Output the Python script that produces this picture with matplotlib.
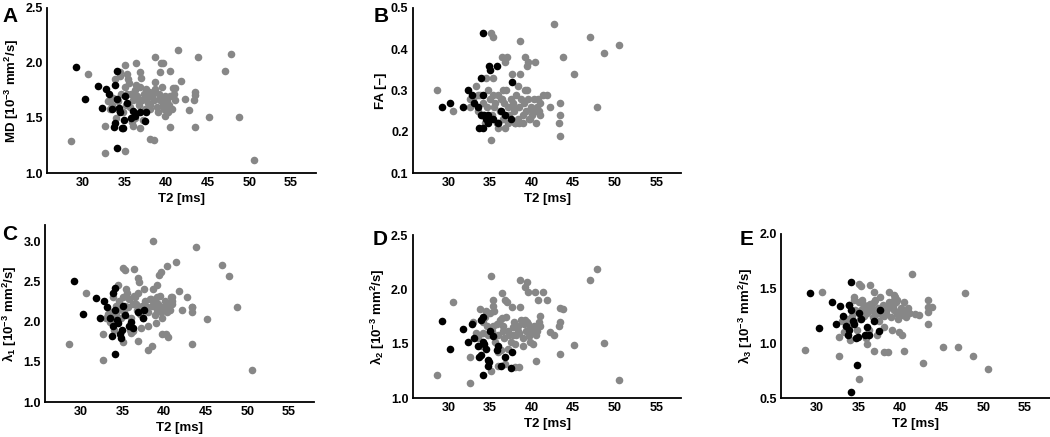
import matplotlib
matplotlib.use("Agg")
import matplotlib.pyplot as plt

plt.rcParams['font.family'] = ['Liberation Sans', 'DejaVu Sans']
plt.rcParams['font.weight'] = 'bold'
plt.rcParams['mathtext.fontset'] = 'custom'
plt.rcParams['mathtext.rm'] = 'Liberation Sans:bold'
plt.rcParams['mathtext.bf'] = 'Liberation Sans:bold'
plt.rcParams['mathtext.it'] = 'Liberation Sans:bold'

# ---- black group: T2, MD, FA, lambda1, lambda2, lambda3
t2_black = [29.2, 30.2, 31.8, 34.1, 34.1, 34.8, 37.5, 37.6, 32.3, 32.8, 33.1, 33.5, 33.7,
            33.9, 33.9, 34.3, 34.5, 34.7, 34.9, 35.0, 35.3, 35.8, 36.0, 36.8, 34.1, 36.3]
md_black = [1.96, 1.67, 1.79, 1.23, 1.93, 1.41, 1.47, 1.55, 1.59, 1.76, 1.72, 1.58, 1.42,
            1.45, 1.80, 1.59, 1.55, 1.41, 1.48, 1.70, 1.64, 1.50, 1.56, 1.55, 1.67, 1.52]
fa_black = [0.26, 0.27, 0.26, 0.21, 0.44, 0.22, 0.23, 0.32, 0.30, 0.29, 0.27, 0.26, 0.21,
            0.24, 0.33, 0.24, 0.23, 0.24, 0.36, 0.35, 0.23, 0.36, 0.22, 0.24, 0.29, 0.25]
l1_black = [2.50, 2.10, 2.29, 1.60, 2.42, 1.80, 2.05, 2.15, 2.05, 2.25, 2.18, 2.05, 1.82,
            1.95, 2.35, 2.02, 1.98, 1.85, 1.90, 2.20, 2.08, 1.95, 2.00, 2.12, 2.15, 1.92]
l2_black = [1.71, 1.45, 1.64, 1.21, 1.75, 1.30, 1.28, 1.42, 1.52, 1.68, 1.55, 1.48, 1.38,
            1.40, 1.72, 1.50, 1.45, 1.35, 1.33, 1.62, 1.57, 1.44, 1.48, 1.38, 1.52, 1.30]
l3_black = [1.46, 1.14, 1.38, 0.56, 1.56, 0.80, 1.11, 1.30, 1.18, 1.34, 1.25, 1.16, 1.08,
            1.12, 1.35, 1.20, 1.18, 1.05, 1.06, 1.28, 1.22, 1.08, 1.15, 1.20, 1.30, 1.08]

# ---- gray group
t2_gray = [28.6, 30.6, 32.6, 32.6, 35.1, 35.1, 35.3, 36.4, 36.8, 37.0, 37.6, 36.8, 36.0,
           38.0, 38.5, 38.6, 39.2, 39.4, 39.6, 38.6, 40.4, 40.5, 41.4, 40.8, 41.0, 41.8,
           42.2, 42.7, 43.4, 43.4, 43.3, 43.4, 43.8, 45.1, 47.0, 47.8, 48.7, 50.5,
           33.0, 33.3, 33.5, 33.8, 34.0, 34.2, 34.4, 34.6, 34.8, 35.0, 35.2, 35.4, 35.6,
           35.8, 36.0, 36.2, 36.3, 36.5, 36.7, 36.9, 37.1, 37.3, 37.5, 37.7, 37.9, 38.1,
           38.3, 38.5, 38.7, 38.9, 39.1, 39.3, 39.5, 39.7, 39.9, 40.1, 40.3, 40.5, 40.7,
           41.0, 34.5, 35.5, 36.4, 38.0, 39.0, 39.8, 40.2, 37.2, 35.9, 34.2, 33.6, 38.4,
           39.2, 36.6, 37.8, 35.3, 40.9, 39.6]
md_gray = [1.29, 1.90, 1.18, 1.43, 1.20, 1.98, 1.90, 2.00, 1.92, 1.86, 1.76, 1.41, 1.43,
           1.31, 1.30, 2.05, 1.92, 2.00, 2.00, 1.83, 1.93, 1.42, 2.12, 1.77, 1.77, 1.84,
           1.67, 1.57, 1.74, 1.71, 1.66, 1.42, 2.05, 1.51, 1.93, 2.08, 1.51, 1.12,
           1.65, 1.58, 1.62, 1.85, 1.50, 1.65, 1.88, 1.72, 1.55, 1.78, 1.62, 1.85, 1.60,
           1.72, 1.66, 1.75, 1.50, 1.70, 1.62, 1.78, 1.66, 1.72, 1.58, 1.68, 1.74, 1.62,
           1.70, 1.66, 1.76, 1.60, 1.72, 1.66, 1.78, 1.58, 1.70, 1.65, 1.62, 1.70, 1.58,
           1.66, 1.92, 1.82, 1.80, 1.58, 1.55, 1.52, 1.55, 1.48, 1.46, 1.58, 1.68, 1.74,
           1.68, 1.66, 1.64, 1.72, 1.72, 1.62]
fa_gray = [0.30, 0.25, 0.26, 0.28, 0.18, 0.44, 0.43, 0.38, 0.37, 0.38, 0.34, 0.21, 0.22,
           0.22, 0.22, 0.42, 0.38, 0.36, 0.37, 0.34, 0.37, 0.22, 0.29, 0.28, 0.27, 0.29,
           0.26, 0.46, 0.27, 0.24, 0.22, 0.19, 0.38, 0.34, 0.43, 0.26, 0.39, 0.41,
           0.28, 0.31, 0.25, 0.29, 0.24, 0.27, 0.22, 0.26, 0.30, 0.28, 0.24, 0.33, 0.27,
           0.22, 0.29, 0.25, 0.28, 0.23, 0.27, 0.30, 0.26, 0.24, 0.28, 0.27, 0.25, 0.29,
           0.23, 0.26, 0.28, 0.24, 0.27, 0.25, 0.30, 0.23, 0.26, 0.24, 0.28, 0.25, 0.26,
           0.24, 0.33, 0.26, 0.28, 0.22, 0.22, 0.23, 0.25, 0.22, 0.21, 0.24, 0.29, 0.31,
           0.30, 0.30, 0.26, 0.29, 0.25, 0.28]
l1_gray = [1.72, 2.36, 1.52, 1.85, 1.75, 2.67, 2.64, 2.65, 2.54, 2.49, 2.40, 1.76, 1.86,
           1.65, 1.70, 3.00, 2.46, 2.58, 2.62, 2.40, 2.69, 1.81, 2.74, 2.31, 2.25, 2.38,
           2.15, 2.30, 2.18, 2.18, 2.12, 1.72, 2.93, 2.03, 2.70, 2.57, 2.18, 1.40,
           2.05, 2.10, 2.00, 2.30, 1.90, 2.20, 2.15, 2.25, 2.05, 2.30, 2.12, 2.40, 2.18,
           2.28, 2.05, 2.22, 1.88, 2.30, 2.15, 2.35, 2.10, 2.20, 2.05, 2.25, 2.18, 2.12,
           2.28, 2.20, 2.25, 2.08, 2.30, 2.22, 2.32, 2.05, 2.18, 2.25, 2.12, 2.20, 2.15,
           2.22, 2.45, 2.36, 2.32, 1.95, 1.98, 1.85, 1.85, 1.92, 1.90, 2.08, 2.12, 2.28,
           2.15, 2.22, 2.18, 2.20, 2.30, 2.12]
l2_gray = [1.21, 1.88, 1.14, 1.38, 1.25, 2.12, 1.90, 1.97, 1.90, 1.88, 1.84, 1.31, 1.30,
           1.29, 1.29, 2.09, 2.02, 2.07, 1.98, 1.84, 1.98, 1.34, 1.98, 1.90, 1.76, 1.90,
           1.61, 1.58, 1.83, 1.70, 1.66, 1.41, 1.82, 1.49, 2.09, 2.19, 1.51, 1.17,
           1.70, 1.60, 1.55, 1.82, 1.48, 1.70, 1.75, 1.66, 1.58, 1.78, 1.62, 1.85, 1.52,
           1.68, 1.58, 1.72, 1.44, 1.62, 1.55, 1.75, 1.62, 1.58, 1.52, 1.65, 1.70, 1.58,
           1.66, 1.60, 1.72, 1.55, 1.68, 1.62, 1.70, 1.57, 1.64, 1.60, 1.66, 1.58, 1.62,
           1.66, 1.80, 1.80, 1.74, 1.50, 1.48, 1.52, 1.50, 1.45, 1.42, 1.60, 1.56, 1.62,
           1.72, 1.66, 1.58, 1.66, 1.70, 1.68]
l3_gray = [0.94, 1.47, 0.88, 1.06, 0.67, 1.54, 1.52, 1.53, 1.47, 1.40, 1.42, 0.93, 0.99,
           0.92, 0.92, 1.47, 1.44, 1.42, 1.40, 1.38, 1.38, 0.93, 1.63, 1.30, 1.28, 1.27,
           1.26, 0.82, 1.40, 1.33, 1.29, 1.18, 1.33, 0.97, 0.97, 1.46, 0.88, 0.77,
           1.20, 1.10, 1.15, 1.35, 1.03, 1.25, 1.40, 1.30, 1.12, 1.38, 1.22, 1.40, 1.25,
           1.33, 1.28, 1.35, 1.12, 1.30, 1.24, 1.38, 1.27, 1.32, 1.20, 1.30, 1.35, 1.25,
           1.28, 1.32, 1.36, 1.24, 1.34, 1.30, 1.38, 1.22, 1.28, 1.32, 1.26, 1.30, 1.24,
           1.28, 1.42, 1.36, 1.36, 1.15, 1.12, 1.10, 1.08, 1.08, 1.05, 1.18, 1.22, 1.34,
           1.40, 1.32, 1.26, 1.30, 1.32, 1.27]

x_ticks = [30, 35, 40, 45, 50, 55]
gray = '#878787'

panels = [
    # letter, gray y, black y, ylabel, ylim, yticks, axes rect, letter pos
    ('A', md_gray, md_black, 'MD [10$^{-3}$ mm$^{2}$/s]', (1.0, 2.5), [1.0, 1.5, 2.0, 2.5],
     [0.045, 0.604, 0.256, 0.378], (0.002, 0.985)),
    ('B', fa_gray, fa_black, 'FA [\u2013]', (0.1, 0.5), [0.1, 0.2, 0.3, 0.4, 0.5],
     [0.393, 0.604, 0.256, 0.378], (0.356, 0.985)),
    ('C', l1_gray, l1_black, '\u03bb$_{1}$ [10$^{-3}$ mm$^{2}$/s]', (1.0, 3.2), [1.0, 1.5, 2.0, 2.5, 3.0],
     [0.043, 0.080, 0.256, 0.405], (0.002, 0.485)),
    ('D', l2_gray, l2_black, '\u03bb$_{2}$ [10$^{-3}$ mm$^{2}$/s]', (1.0, 2.5), [1.0, 1.5, 2.0, 2.5],
     [0.393, 0.089, 0.256, 0.373], (0.355, 0.473)),
    ('E', l3_gray, l3_black, '\u03bb$_{3}$ [10$^{-3}$ mm$^{2}$/s]', (0.5, 2.0), [0.5, 1.0, 1.5, 2.0],
     [0.744, 0.089, 0.256, 0.376], (0.704, 0.473)),
]

fig = plt.figure(figsize=(10.5, 4.37), dpi=100)

for letter, yg, yb, ylabel, ylim, yticks, rect, lpos in panels:
    ax = fig.add_axes(rect)
    ax.scatter(t2_gray, yg, s=30, color=gray, linewidths=0, zorder=2)
    ax.scatter(t2_black, yb, s=30, color='black', linewidths=0, zorder=3)
    ax.set_xlim(25.7, 58)
    ax.set_ylim(*ylim)
    ax.set_xticks(x_ticks)
    ax.set_yticks(yticks)
    ax.set_yticklabels(['%.1f' % v for v in yticks])
    ax.spines['top'].set_visible(False)
    ax.spines['right'].set_visible(False)
    ax.spines['left'].set_linewidth(1.3)
    ax.spines['bottom'].set_linewidth(1.3)
    ax.tick_params(length=0, labelsize=9, pad=3)
    for lab in ax.get_xticklabels() + ax.get_yticklabels():
        lab.set_fontweight('bold')
    ax.set_xlabel('T2 [ms]', fontsize=9.5, fontweight='bold', labelpad=3)
    ax.set_ylabel(ylabel, fontsize=9.5, fontweight='bold', labelpad=3)
    fig.text(lpos[0], lpos[1], letter, fontsize=15, fontweight='bold', va='top', ha='left')

fig.savefig('out.png', dpi=100)
